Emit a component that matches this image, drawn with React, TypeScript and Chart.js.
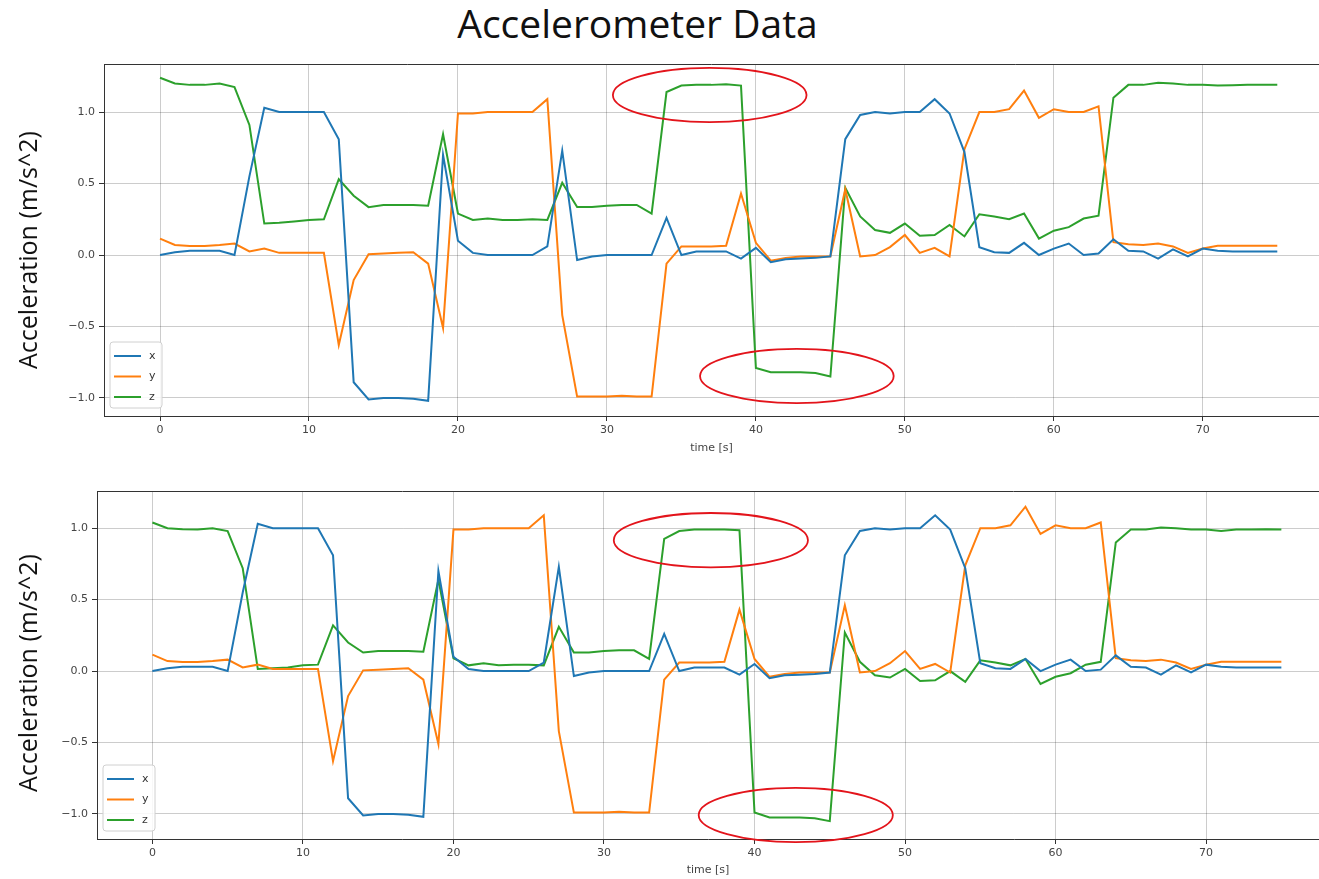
import React, { useEffect, useRef } from "react";
import { Chart, registerables } from "chart.js";

Chart.register(...registerables);

// ---------------- DATA ----------------
const TIME = [
  0, 1, 2, 3, 4, 5, 6, 7, 8, 9, 10, 11, 12, 13, 14, 15, 16, 17, 18, 19,
  20, 21, 22, 23, 24, 25, 26, 27, 28, 29, 30, 31, 32, 33, 34, 35, 36, 37, 38, 39,
  40, 41, 42, 43, 44, 45, 46, 47, 48, 49, 50, 51, 52, 53, 54, 55, 56, 57, 58, 59,
  60, 61, 62, 63, 64, 65, 66, 67, 68, 69, 70, 71, 72, 73, 74, 75,
];

const ACC_X = [
  0.0, 0.02, 0.03, 0.03, 0.03, 0.0, 0.55, 1.03, 1.0, 1.0, 1.0, 1.0, 0.81, -0.89, -1.01, -1.0, -1.0, -1.005, -1.02, 0.7,
  0.1, 0.015, 0.0, 0.0, 0.0, 0.0, 0.06, 0.73, -0.035, -0.01, 0.0, 0.0, 0.0, 0.0, 0.26, 0.0, 0.025, 0.025, 0.025, -0.025,
  0.05, -0.05, -0.03, -0.025, -0.02, -0.01, 0.81, 0.98, 1.0, 0.99, 1.0, 1.0, 1.09, 0.99, 0.72, 0.055, 0.02, 0.015, 0.085, 0.0,
  0.045, 0.08, 0.0, 0.01, 0.11, 0.03, 0.025, -0.025, 0.04, -0.01, 0.045, 0.03, 0.025, 0.025, 0.025, 0.025,
];

const ACC_Y = [
  0.115, 0.07, 0.063, 0.063, 0.07, 0.08, 0.025, 0.045, 0.015, 0.015, 0.015, 0.015, -0.63, -0.175, 0.005, 0.01, 0.015, 0.02, -0.06, -0.51,
  0.99, 0.99, 1.0, 1.0, 1.0, 1.0, 1.09, -0.42, -0.99, -0.99, -0.99, -0.985, -0.99, -0.99, -0.06, 0.06, 0.06, 0.06, 0.065, 0.43,
  0.085, -0.04, -0.02, -0.01, -0.01, -0.01, 0.46, -0.01, 0.0, 0.055, 0.14, 0.015, 0.05, -0.01, 0.74, 1.0, 1.0, 1.02, 1.15, 0.96,
  1.02, 1.0, 1.0, 1.04, 0.09, 0.075, 0.07, 0.08, 0.06, 0.015, 0.045, 0.065, 0.065, 0.065, 0.065, 0.065,
];

const ACC_Z_TOP = [
  1.24, 1.2, 1.19, 1.19, 1.2, 1.175, 0.91, 0.22, 0.225, 0.235, 0.245, 0.25, 0.53, 0.415, 0.335, 0.35, 0.35, 0.35, 0.345, 0.845,
  0.29, 0.245, 0.255, 0.245, 0.245, 0.25, 0.245, 0.505, 0.335, 0.335, 0.345, 0.35, 0.35, 0.29, 1.14, 1.185, 1.19, 1.19, 1.195, 1.185,
  -0.79, -0.82, -0.82, -0.82, -0.825, -0.85, 0.47, 0.27, 0.175, 0.155, 0.22, 0.135, 0.14, 0.21, 0.13, 0.285, 0.27, 0.25, 0.29, 0.115,
  0.17, 0.195, 0.255, 0.275, 1.1, 1.19, 1.19, 1.205, 1.2, 1.19, 1.19, 1.185, 1.187, 1.19, 1.19, 1.19,
];

const ACC_Z_BOTTOM = [
  1.04, 1.0, 0.993, 0.99, 1.0, 0.98, 0.72, 0.015, 0.02, 0.025, 0.04, 0.045, 0.32, 0.2, 0.13, 0.14, 0.14, 0.14, 0.135, 0.64,
  0.09, 0.04, 0.055, 0.04, 0.045, 0.045, 0.04, 0.31, 0.13, 0.13, 0.14, 0.145, 0.145, 0.085, 0.925, 0.98, 0.99, 0.99, 0.99, 0.985,
  -0.99, -1.025, -1.025, -1.025, -1.03, -1.05, 0.27, 0.065, -0.03, -0.045, 0.015, -0.07, -0.065, 0.0, -0.075, 0.075, 0.06, 0.04, 0.085, -0.09,
  -0.04, -0.015, 0.045, 0.065, 0.9, 0.99, 0.99, 1.005, 1.0, 0.99, 0.99, 0.98, 0.99, 0.99, 0.993, 0.99,
];

const SERIES_NAMES = ["x", "y", "z"];
const SERIES_COLORS = ["#1f77b4", "#ff7f0e", "#2ca02c"];

const X_TICKS = [0, 10, 20, 30, 40, 50, 60, 70];
const Y_TICKS = [-1.0, -0.5, 0.0, 0.5, 1.0];

const MAIN_TITLE = "Accelerometer Data";
const Y_TITLE = "Acceleration (m/s^2)";
const X_TITLE = "time [s]";

// highlighted regions (data coordinates: centre and radii)
const ELLIPSES_TOP = [
  { cx: 36.9, cy: 1.119, rx: 6.5, ry: 0.19 },
  { cx: 42.75, cy: -0.846, rx: 6.5, ry: 0.19 },
];
const ELLIPSES_BOTTOM = [
  { cx: 37.1, cy: 0.916, rx: 6.45, ry: 0.19 },
  { cx: 42.74, cy: -1.007, rx: 6.45, ry: 0.19 },
];

// ---------------- CHART ----------------
const TICK_FONT = { family: "'DejaVu Sans', sans-serif", size: 11 };
const GRID_COLOR = "rgba(0,0,0,0.2)";
const AXIS_COLOR = "#333333";

const fmtY = (v: number) => (v < 0 ? "\u2212" : "") + Math.abs(v).toFixed(1);

const decorPlugin = {
  id: "decor",
  afterDatasetsDraw(chart: any, _args: any, opts: any) {
    const { ctx, chartArea } = chart;
    const xs = chart.scales.x;
    const ys = chart.scales.y;
    ctx.save();
    // top frame line
    ctx.strokeStyle = AXIS_COLOR;
    ctx.lineWidth = 1;
    ctx.beginPath();
    ctx.moveTo(chartArea.left, chartArea.top + 0.5);
    ctx.lineTo(chartArea.right, chartArea.top + 0.5);
    ctx.stroke();

    // y-axis title
    ctx.save();
    ctx.translate(opts.yTitleX, opts.yTitleY);
    ctx.rotate(-Math.PI / 2);
    ctx.fillStyle = "#111";
    ctx.font = "25px 'Open Sans', sans-serif";
    ctx.textAlign = "center";
    ctx.textBaseline = "middle";
    ctx.fillText(Y_TITLE, 0, 0);
    ctx.restore();

    // ellipses
    ctx.strokeStyle = "#e3141b";
    ctx.lineWidth = 1.8;
    (opts.ellipses || []).forEach((e: any) => {
      const px = xs.getPixelForValue(e.cx);
      const py = ys.getPixelForValue(e.cy);
      const rxp = Math.abs(xs.getPixelForValue(e.cx + e.rx) - px);
      const ryp = Math.abs(ys.getPixelForValue(e.cy + e.ry) - py);
      ctx.beginPath();
      ctx.ellipse(px, py, rxp, ryp, 0, 0, Math.PI * 2);
      ctx.stroke();
    });

    // legend box (bottom-left inside the axes)
    const x0 = chartArea.left + 6;
    const y1 = chartArea.bottom - 8;
    const w = 52;
    const h = 66;
    const y0 = y1 - h;
    ctx.fillStyle = "rgba(255,255,255,0.85)";
    ctx.strokeStyle = "#d0d0d0";
    ctx.lineWidth = 1;
    ctx.beginPath();
    const r = 3;
    ctx.moveTo(x0 + r, y0);
    ctx.lineTo(x0 + w - r, y0);
    ctx.quadraticCurveTo(x0 + w, y0, x0 + w, y0 + r);
    ctx.lineTo(x0 + w, y1 - r);
    ctx.quadraticCurveTo(x0 + w, y1, x0 + w - r, y1);
    ctx.lineTo(x0 + r, y1);
    ctx.quadraticCurveTo(x0, y1, x0, y1 - r);
    ctx.lineTo(x0, y0 + r);
    ctx.quadraticCurveTo(x0, y0, x0 + r, y0);
    ctx.closePath();
    ctx.fill();
    ctx.stroke();
    chart.data.datasets.forEach((ds: any, i: number) => {
      const yy = y0 + 14 + i * 20.5;
      ctx.strokeStyle = ds.borderColor;
      ctx.lineWidth = 2;
      ctx.beginPath();
      ctx.moveTo(x0 + 4, yy);
      ctx.lineTo(x0 + 31, yy);
      ctx.stroke();
      ctx.fillStyle = "#333";
      ctx.font = "11px 'DejaVu Sans', sans-serif";
      ctx.textAlign = "left";
      ctx.textBaseline = "middle";
      ctx.fillText(ds.label, x0 + 39, yy);
    });
    ctx.restore();
  },
};

type PanelProps = {
  zData: number[];
  ellipses: { cx: number; cy: number; rx: number; ry: number }[];
  top: number;
  height: number;
  padTop: number;
  yAxisWidth: number;
  xAxisHeight: number;
  xMin: number;
  xMax: number;
  yMin: number;
  yMax: number;
  xTitlePad: number;
  yTitleY: number;
};

function Panel(p: PanelProps) {
  const ref = useRef<HTMLCanvasElement>(null);
  useEffect(() => {
    const series = [ACC_X, ACC_Y, p.zData];
    const chart = new Chart(ref.current as HTMLCanvasElement, {
      type: "line",
      data: {
        datasets: series.map((vals, i) => ({
          label: SERIES_NAMES[i],
          data: TIME.map((t, k) => ({ x: t, y: vals[k] })),
          borderColor: SERIES_COLORS[i],
          backgroundColor: SERIES_COLORS[i],
          borderWidth: 2,
          pointRadius: 0,
          tension: 0,
          fill: false,
        })),
      },
      options: {
        responsive: false,
        animation: false,
        devicePixelRatio: 1,
        layout: { padding: { top: p.padTop, left: 0, right: 0, bottom: 0 } },
        plugins: {
          legend: { display: false },
          tooltip: { enabled: false },
          decor: { ellipses: p.ellipses, yTitleX: 30, yTitleY: p.yTitleY },
        } as any,
        scales: {
          x: {
            type: "linear",
            min: p.xMin,
            max: p.xMax,
            afterBuildTicks: (s: any) => {
              s.ticks = X_TICKS.map((v) => ({ value: v }));
            },
            afterFit: (s: any) => {
              s.height = p.xAxisHeight;
            },
            ticks: {
              font: TICK_FONT,
              color: "#444",
              padding: 3,
              maxRotation: 0,
              autoSkip: false,
              callback: (v: any) => String(v),
            },
            grid: { color: GRID_COLOR, tickColor: AXIS_COLOR, tickLength: 5, lineWidth: 1 },
            border: { color: AXIS_COLOR, width: 1 },
            title: {
              display: true,
              text: X_TITLE,
              font: TICK_FONT,
              color: "#444",
              padding: { top: 0, bottom: p.xTitlePad },
            },
          },
          y: {
            type: "linear",
            min: p.yMin,
            max: p.yMax,
            afterBuildTicks: (s: any) => {
              s.ticks = Y_TICKS.map((v) => ({ value: v }));
            },
            afterFit: (s: any) => {
              s.width = p.yAxisWidth;
            },
            ticks: {
              font: TICK_FONT,
              color: "#444",
              padding: 4,
              callback: (v: any) => fmtY(Number(v)),
            },
            grid: { color: GRID_COLOR, tickColor: AXIS_COLOR, tickLength: 5, lineWidth: 1 },
            border: { color: AXIS_COLOR, width: 1 },
            title: { display: false },
          },
        },
      },
      plugins: [decorPlugin],
    } as any);
    return () => chart.destroy();
  }, []);
  return (
    <canvas
      ref={ref}
      width={1319}
      height={p.height}
      style={{ position: "absolute", left: 0, top: p.top, width: 1319, height: p.height }}
    />
  );
}

export default function App() {
  return (
    <div
      style={{
        position: "fixed",
        left: 0,
        top: 0,
        width: 1319,
        height: 879,
        background: "#ffffff",
        overflow: "hidden",
      }}
    >
      <div
        style={{
          position: "absolute",
          left: 0,
          top: 0,
          width: 1275,
          textAlign: "center",
          fontFamily: "'Open Sans', sans-serif",
          fontSize: 39,
          lineHeight: "46px",
          color: "#111",
        }}
      >
        {MAIN_TITLE}
      </div>
      <Panel
        zData={ACC_Z_TOP}
        ellipses={ELLIPSES_TOP}
        top={40}
        height={430}
        padTop={24}
        yAxisWidth={104}
        xAxisHeight={54}
        xMin={-3.76}
        xMax={77.8}
        yMin={-1.126}
        yMax={1.336}
        xTitlePad={15.4}
        yTitleY={210}
      />
      <Panel
        zData={ACC_Z_BOTTOM}
        ellipses={ELLIPSES_BOTTOM}
        top={470}
        height={409}
        padTop={21}
        yAxisWidth={97}
        xAxisHeight={40}
        xMin={-3.68}
        xMax={77.5}
        yMin={-1.175}
        yMax={1.26}
        xTitlePad={2.4}
        yTitleY={203}
      />
    </div>
  );
}
